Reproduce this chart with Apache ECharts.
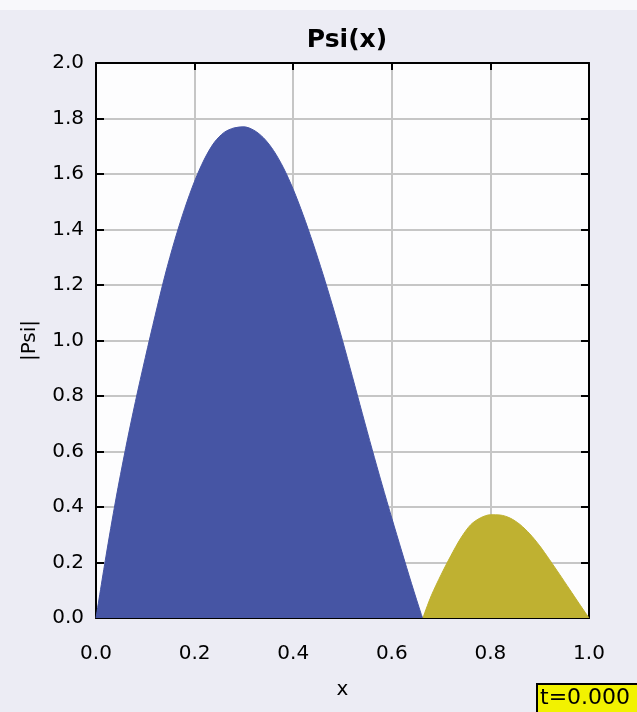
<!DOCTYPE html>
<html>
<head>
<meta charset="utf-8">
<script src="https://cdn.jsdelivr.net/npm/echarts@6/dist/echarts.min.js"></script>
<style>
html,body{margin:0;padding:0;background:#ececf4;}
#chart{width:637px;height:712px;}
</style>
</head>
<body>
<div id="chart"></div>
<script>
// Data
var blueX = [0, 0.02, 0.04, 0.06, 0.08, 0.10, 0.12, 0.14, 0.16, 0.18, 0.20, 0.22, 0.24, 0.26, 0.28, 0.30, 0.32, 0.34, 0.36, 0.38, 0.40, 0.42, 0.44, 0.46, 0.48, 0.50, 0.52, 0.54, 0.56, 0.58, 0.60, 0.62, 0.64, 0.66, 0.663];
var blueY = [0, 0.22, 0.425, 0.61, 0.78, 0.938, 1.09, 1.235, 1.363, 1.476, 1.574, 1.654, 1.714, 1.75, 1.766, 1.770, 1.758, 1.73, 1.685, 1.623, 1.545, 1.453, 1.351, 1.241, 1.124, 1.0, 0.87, 0.738, 0.608, 0.482, 0.36, 0.241, 0.124, 0.012, 0];
var yellowX = [0.663, 0.68, 0.70, 0.72, 0.74, 0.76, 0.78, 0.80, 0.82, 0.84, 0.86, 0.88, 0.90, 0.92, 0.94, 0.96, 0.98, 1.0];
var yellowY = [0, 0.08, 0.156, 0.225, 0.288, 0.336, 0.361, 0.372, 0.371, 0.36, 0.337, 0.303, 0.26, 0.21, 0.158, 0.105, 0.052, 0];
var xTicks = [0.0, 0.2, 0.4, 0.6, 0.8, 1.0];
var yTicks = [0.0, 0.2, 0.4, 0.6, 0.8, 1.0, 1.2, 1.4, 1.6, 1.8, 2.0];
var titleText = 'Psi(x)';
var xName = 'x';
var yName = '|Psi|';
var timeLabel = 't=0.000';

function pairs(xs, ys){ return xs.map(function(x,i){ return [x, ys[i]]; }); }

var chart = echarts.init(document.getElementById('chart'), null, {renderer:'canvas'});
var fontFam = '"DejaVu Sans", sans-serif';
var gridLine = {show:true, lineStyle:{color:'#c6c6c6', width:2}};
var axLine = {show:true, onZero:false, lineStyle:{color:'#000', width:2}};
var option = {
  backgroundColor:'#ececf4',
  animation:false,
  title:{text:titleText, left:342, top:23, textAlign:'center',
    textStyle:{fontFamily:fontFam, fontWeight:'bold', fontSize:25, color:'#000'}},
  graphic:[
    {type:'rect', left:0, top:0, shape:{width:637, height:10}, style:{fill:'#f8f8fb'}, z:-1},
    {type:'group', left:536, top:683, children:[
      {type:'rect', shape:{x:0, y:0, width:103, height:30}, style:{fill:'#f2f200', stroke:'#000', lineWidth:2}},
      {type:'text', x:3, y:3, style:{text:timeLabel, fontFamily:fontFam, fontSize:22, fill:'#000'}}
    ]}
  ],
  grid:{left:96, right:48, top:63, bottom:94, show:true, backgroundColor:'#fdfdfe', borderWidth:0},
  xAxis:[
    {type:'value', min:0, max:1, interval:0.2, position:'bottom',
     axisLine:axLine, axisTick:{show:false}, splitLine:gridLine,
     axisLabel:{formatter:function(v){return v.toFixed(1);}, fontFamily:fontFam, fontSize:20, color:'#000', margin:26},
     name:xName, nameLocation:'middle', nameGap:62, nameTextStyle:{fontFamily:fontFam, fontSize:20, color:'#000'}},
    {type:'value', min:0, max:1, interval:0.2, position:'top',
     axisLine:axLine, axisTick:{show:true, inside:true, length:7, lineStyle:{color:'#000', width:2}},
     axisLabel:{show:false}, splitLine:{show:false}}
  ],
  yAxis:[
    {type:'value', min:0, max:2, interval:0.2, position:'left',
     axisLine:axLine, axisTick:{show:true, inside:true, length:8, lineStyle:{color:'#000', width:2}}, splitLine:gridLine,
     axisLabel:{formatter:function(v){return v.toFixed(1);}, fontFamily:fontFam, fontSize:20, color:'#000', margin:12},
     name:yName, nameLocation:'middle', nameGap:56, nameRotate:90, nameTextStyle:{fontFamily:fontFam, fontSize:20, color:'#000'}},
    {type:'value', min:0, max:2, interval:0.2, position:'right',
     axisLine:axLine, axisTick:{show:true, inside:true, length:8, lineStyle:{color:'#000', width:2}},
     axisLabel:{show:false}, splitLine:{show:false}}
  ],
  series:[
    {type:'line', data:pairs(blueX, blueY), smooth:0.3, showSymbol:false,
     lineStyle:{width:1, color:'#4655a4'}, areaStyle:{color:'#4655a4', opacity:1}, z:3},
    {type:'line', data:pairs(yellowX, yellowY), smooth:0.3, showSymbol:false,
     lineStyle:{width:1, color:'#bfb131'}, areaStyle:{color:'#bfb131', opacity:1}, z:3}
  ]
};
chart.setOption(option);
</script>
</body>
</html>
